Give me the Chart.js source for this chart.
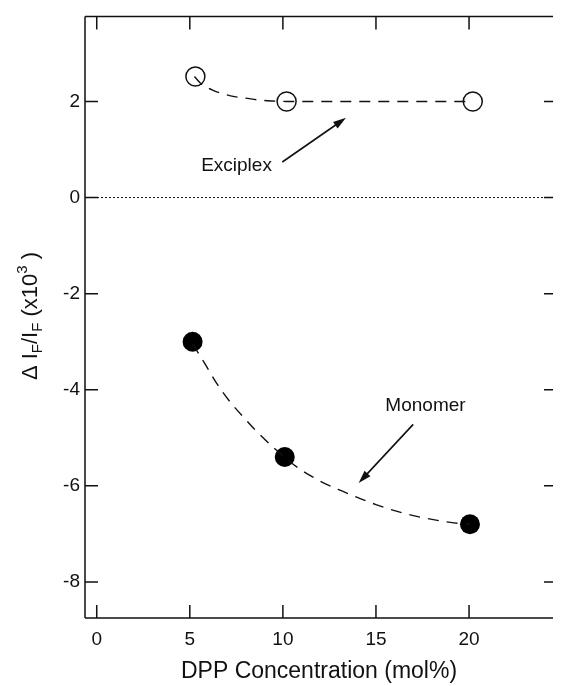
<!DOCTYPE html>
<html>
<head>
<meta charset="utf-8">
<script src="https://cdn.jsdelivr.net/npm/chart.js@4.4.1/dist/chart.umd.min.js"></script>
<style>
  html, body { margin: 0; padding: 0; background: #fff; overflow: hidden; }
  canvas { display: block; }
</style>
</head>
<body>
<canvas id="chart" width="564" height="686"></canvas>
<script>
// ---------- data ----------
const exciplexConc = [5.3, 10.2, 20.2];
const exciplexVals = [2.52, 2.0, 2.0];
const monomerConc = [5.15, 10.1, 20.05];
const monomerVals = [-3.0, -5.4, -6.8];

// dashed guide curves
const exciplexFitX = [5.25, 5.6, 6.2, 6.6, 7.4, 8.0, 8.7, 9.4, 10.2, 15, 20.2];
const exciplexFitY = [2.52, 2.37, 2.24, 2.18, 2.1, 2.07, 2.03, 2.01, 2.0, 2.0, 2.0];
const monomerFitX = [5.15, 5.8, 6.5, 7.2, 8.0, 8.6, 9.6, 10.8, 12.0, 13.0, 14.0, 15.0, 16.4, 17.5, 19.0, 20.05];
const monomerFitY = [-3.05, -3.45, -3.9, -4.27, -4.62, -4.87, -5.24, -5.62, -5.9, -6.08, -6.24, -6.39, -6.56, -6.66, -6.76, -6.8];

const xTicks = [0, 5, 10, 15, 20];
const yTicks = [-8, -6, -4, -2, 0, 2];
const xRange = [-0.63, 24.51];
const yRange = [-8.75, 3.77];

const FONT = "'Liberation Sans', Arial, Helvetica, sans-serif";
const INK = "#111";

const pts = (xs, ys) => xs.map((x, i) => ({ x: x, y: ys[i] }));

// ---------- frame, inward ticks, labels, arrows ----------
const decor = {
  id: "decor",
  afterDatasetsDraw(chart) {
    const ctx = chart.ctx;
    const xs = chart.scales.x, ys = chart.scales.y;
    const a = chart.chartArea;
    const tl = 13;
    ctx.save();
    ctx.strokeStyle = INK;
    ctx.lineWidth = 1.5;
    ctx.beginPath();
    ctx.moveTo(a.left, a.top); ctx.lineTo(a.left, a.bottom);
    ctx.moveTo(a.left, a.top); ctx.lineTo(a.right, a.top);
    ctx.moveTo(a.left, a.bottom); ctx.lineTo(a.right, a.bottom);
    xTicks.forEach((v) => {
      const px = xs.getPixelForValue(v);
      ctx.moveTo(px, a.bottom); ctx.lineTo(px, a.bottom - tl);
      ctx.moveTo(px, a.top); ctx.lineTo(px, a.top + tl);
    });
    yTicks.forEach((v) => {
      const py = ys.getPixelForValue(v);
      ctx.moveTo(a.left, py); ctx.lineTo(a.left + tl, py);
      ctx.moveTo(a.right, py); ctx.lineTo(a.right - tl + 4, py);
    });
    ctx.stroke();

    // annotations
    const arrow = (x1, y1, x2, y2) => {
      const p1 = [xs.getPixelForValue(x1), ys.getPixelForValue(y1)];
      const p2 = [xs.getPixelForValue(x2), ys.getPixelForValue(y2)];
      const ang = Math.atan2(p2[1] - p1[1], p2[0] - p1[0]);
      const hl = 13, hw = 4;
      ctx.lineWidth = 1.6;
      ctx.beginPath();
      ctx.moveTo(p1[0], p1[1]);
      ctx.lineTo(p2[0] - Math.cos(ang) * hl * 0.8, p2[1] - Math.sin(ang) * hl * 0.8);
      ctx.stroke();
      ctx.beginPath();
      ctx.moveTo(p2[0], p2[1]);
      ctx.lineTo(p2[0] - Math.cos(ang) * hl - Math.sin(ang) * hw, p2[1] - Math.sin(ang) * hl + Math.cos(ang) * hw);
      ctx.lineTo(p2[0] - Math.cos(ang) * hl + Math.sin(ang) * hw, p2[1] - Math.sin(ang) * hl - Math.cos(ang) * hw);
      ctx.closePath();
      ctx.fillStyle = INK;
      ctx.fill();
    };
    arrow(9.97, 0.74, 13.39, 1.66);
    arrow(17.0, -4.72, 14.07, -5.94);

    ctx.fillStyle = INK;
    ctx.font = "19px " + FONT;
    ctx.textAlign = "center";
    ctx.textBaseline = "middle";
    ctx.fillText("Exciplex", xs.getPixelForValue(7.51), ys.getPixelForValue(0.67));
    ctx.fillText("Monomer", xs.getPixelForValue(17.66), ys.getPixelForValue(-4.33));

    // y axis title with sub/superscripts
    const parts = [
      ["\u0394 I", 0], ["F", 1], ["/I", 0], ["F", 1], [" (x10", 0], ["3", -1], [" )", 0]
    ];
    const big = "22px " + FONT, small = "15px " + FONT;
    let w = 0;
    parts.forEach((p) => { ctx.font = p[1] ? small : big; w += ctx.measureText(p[0]).width; });
    ctx.translate(37, 316);
    ctx.rotate(-Math.PI / 2);
    ctx.textAlign = "left";
    ctx.textBaseline = "alphabetic";
    let cx = -w / 2;
    parts.forEach((p) => {
      ctx.font = p[1] ? small : big;
      const dy = p[1] === 1 ? 5 : p[1] === -1 ? -10 : 0;
      ctx.fillText(p[0], cx, dy);
      cx += ctx.measureText(p[0]).width;
    });
    ctx.restore();
  }
};

const ctx = document.getElementById("chart").getContext("2d");
new Chart(ctx, {
  type: "scatter",
  data: {
    datasets: [
      {
        label: "zero",
        data: pts(xRange, [0, 0]),
        showLine: true,
        borderColor: INK,
        borderWidth: 1,
        borderDash: [2, 2],
        pointRadius: 0
      },
      {
        label: "Exciplex fit",
        data: pts(exciplexFitX, exciplexFitY),
        showLine: true,
        cubicInterpolationMode: "monotone",
        borderColor: INK,
        borderWidth: 1.4,
        borderDash: [11, 8],
        pointRadius: 0
      },
      {
        label: "Monomer fit",
        data: pts(monomerFitX, monomerFitY),
        showLine: true,
        cubicInterpolationMode: "monotone",
        borderColor: INK,
        borderWidth: 1.4,
        borderDash: [11, 8],
        pointRadius: 0
      },
      {
        label: "Exciplex",
        data: pts(exciplexConc, exciplexVals),
        pointRadius: 9.5,
        pointBorderWidth: 1.5,
        pointBorderColor: INK,
        pointBackgroundColor: "rgba(0,0,0,0)"
      },
      {
        label: "Monomer",
        data: pts(monomerConc, monomerVals),
        pointRadius: 10,
        pointBorderWidth: 0,
        pointBackgroundColor: "#000"
      }
    ]
  },
  options: {
    responsive: false,
    animation: false,
    layout: { padding: { top: 13, right: 0, left: 0, bottom: 0 } },
    plugins: { legend: { display: false }, tooltip: { enabled: false } },
    scales: {
      x: {
        type: "linear",
        min: xRange[0],
        max: xRange[1],
        afterBuildTicks: (s) => { s.ticks = xTicks.map((v) => ({ value: v })); },
        afterFit: (s) => { s.height = 68; },
        grid: { display: false, drawTicks: false },
        border: { display: false },
        ticks: { color: INK, padding: 10, font: { family: FONT, size: 19 } },
        title: {
          display: true,
          text: "DPP Concentration (mol%)",
          color: INK,
          padding: { top: 0, bottom: 1 },
          font: { family: FONT, size: 23 }
        }
      },
      y: {
        type: "linear",
        min: yRange[0],
        max: yRange[1],
        afterBuildTicks: (s) => { s.ticks = yTicks.map((v) => ({ value: v })); },
        afterFit: (s) => { s.width = 85; },
        grid: { display: false, drawTicks: false },
        border: { display: false },
        ticks: { color: INK, padding: 5, font: { family: FONT, size: 19 } }
      }
    }
  },
  plugins: [decor]
});
</script>
</body>
</html>
